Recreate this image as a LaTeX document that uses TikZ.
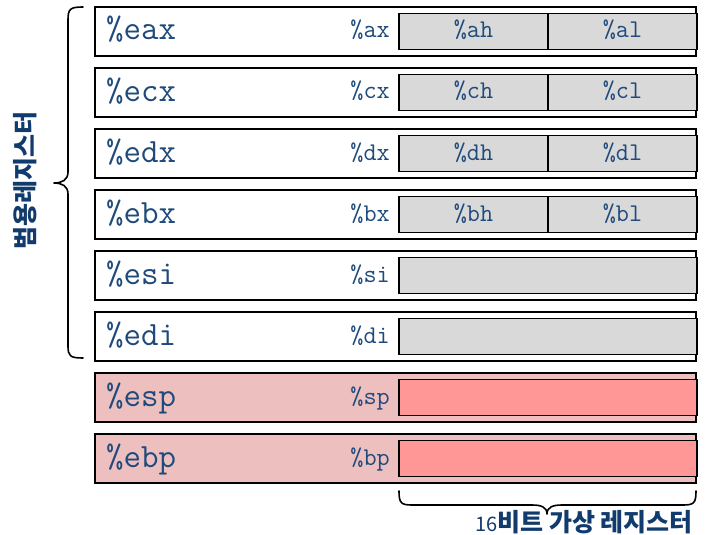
\documentclass[tikz,border=0pt]{standalone}
\usepackage{fontspec}
\newfontfamily\krfont{Noto Sans CJK KR}
\definecolor{regtext}{HTML}{1F4A7C}
\definecolor{lbltext}{HTML}{123B6D}
\definecolor{grayfill}{HTML}{D9D9D9}
\definecolor{pinkout}{HTML}{EEBFBF}
\definecolor{pinkin}{HTML}{FF9797}
\tikzset{
  outerbox/.style={draw=black, line width=2.8pt, minimum width=601pt, minimum height=49pt, inner sep=0pt, outer sep=0pt},
  innerbox/.style={draw=black, line width=1.1pt, minimum height=36pt, inner sep=0pt, outer sep=0pt},
  bigreg/.style={font=\ttfamily\fontsize{34}{36}\selectfont, text=regtext, anchor=base west, inner sep=0pt},
  smallreg/.style={font=\ttfamily\fontsize{25.5}{27}\selectfont, text=regtext, inner sep=0pt},
  krlabel/.style={font=\krfont\bfseries\fontsize{25}{28}\selectfont, text=lbltext, inner sep=0pt},
  bracepath/.style={draw=black, line width=1.6pt, line cap=round, line join=round}
}
\begin{document}
\begin{tikzpicture}[x=1pt,y=-1pt]
\useasboundingbox (0,0) rectangle (707,535);
\foreach \i/\r/\s/\h/\l/\k in {0/eax/ax/ah/al/0,1/ecx/cx/ch/cl/0,2/edx/dx/dh/dl/0,3/ebx/bx/bh/bl/0,4/esi/si/x/x/1,5/edi/di/x/x/1,6/esp/sp/x/x/2,7/ebp/bp/x/x/2}{
  \pgfmathsetmacro\top{6+61*\i}
  \pgfmathsetmacro\cy{\top+25.5}
  \ifcase\k
    \node[outerbox, fill=white] (row\r) at (395.5,\cy) {};
    \node[innerbox, fill=grayfill, minimum width=149pt] (hi\r) at (473.5,\cy) {};
    \node[innerbox, fill=grayfill, minimum width=149pt] (lo\r) at (622.5,\cy) {};
    \node[smallreg, anchor=base] (th\r) at ([yshift=-6.5pt]hi\r.center) {\%\h};
    \node[smallreg, anchor=base] (tl\r) at ([yshift=-6.5pt]lo\r.center) {\%\l};
  \or
    \node[outerbox, fill=white] (row\r) at (395.5,\cy) {};
    \node[innerbox, fill=grayfill, minimum width=298pt] (in\r) at (548,\cy) {};
  \or
    \node[outerbox, fill=pinkout] (row\r) at (395.5,\cy) {};
    \node[innerbox, fill=pinkin, minimum width=298pt] (in\r) at (548,\cy) {};
  \fi
  \node[bigreg] (t\r) at (106,\cy+8.5) {\%\r};
  \node[smallreg, anchor=base east] (ts\r) at (390,\cy+6.5) {\%\s};
}
% left brace
\draw[bracepath] (83,7) .. controls (70,7) and (68,9) .. (68,20) -- (68,172)
  .. controls (68,180) and (62,183) .. (54,183)
  .. controls (62,183) and (68,186) .. (68,194) -- (68,346)
  .. controls (68,356) and (70,358) .. (83,358);
\node[krlabel, rotate=90] (lblgen) at (25,180) {범용레지스터};
% bottom brace
\draw[bracepath] (399,491) .. controls (399,503) and (401,505) .. (412,505) -- (532,505)
  .. controls (541,505) and (547,507) .. (547,514)
  .. controls (547,507) and (553,505) .. (562,505) -- (683,505)
  .. controls (694,505) and (696,503) .. (696,491);
\node[krlabel, anchor=east] (lblvirt) at (693,522) {{\mdseries\fontsize{20}{22}\selectfont 16}비트 가상 레지스터};
\end{tikzpicture}
\end{document}
